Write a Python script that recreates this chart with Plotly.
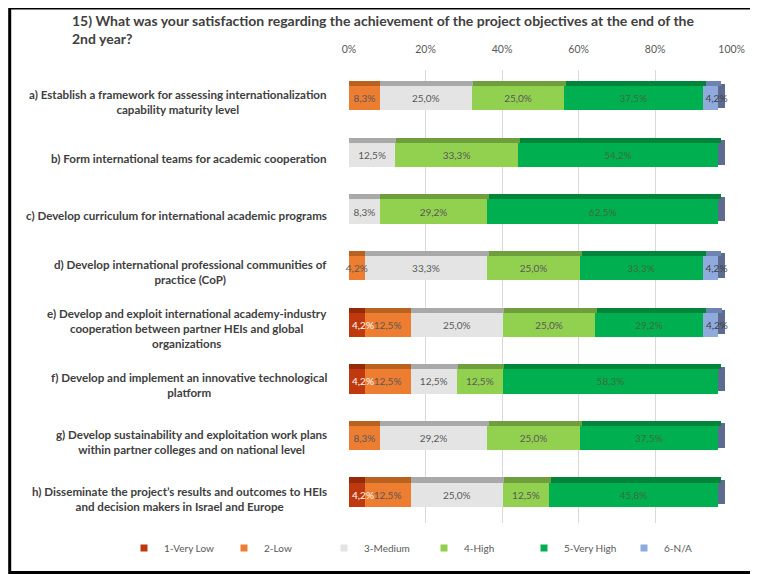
import plotly.graph_objects as go

categories = [
    "a) Establish a framework for assessing internationalization<br>capability maturity level",
    "b) Form international teams for academic cooperation",
    "c) Develop curriculum for international academic programs",
    "d) Develop international professional communities of<br>practice (CoP)",
    "e) Develop and exploit international academy-industry<br>cooperation between partner HEIs and global<br>organizations",
    "f) Develop and implement an innovative technological<br>platform",
    "g) Develop sustainability and exploitation work plans<br>within partner colleges and on national level",
    "h) Disseminate the project\u2019s results and outcomes to HEIs<br>and decision makers in Israel and Europe",
]
keys = ["a", "b", "c", "d", "e", "f", "g", "h"]

very_low = [0, 0, 0, 0, 4.2, 4.2, 0, 4.2]
low = [8.3, 0, 0, 4.2, 12.5, 12.5, 8.3, 12.5]
medium = [25.0, 12.5, 8.3, 33.3, 25.0, 12.5, 29.2, 25.0]
high = [25.0, 33.3, 29.2, 25.0, 25.0, 12.5, 25.0, 12.5]
very_high = [37.5, 54.2, 62.5, 33.3, 29.2, 58.3, 37.5, 45.8]
na = [4.2, 0, 0, 4.2, 4.2, 0, 0, 0]

series_names = ["1-Very Low", "2-Low", "3-Medium", "4-High", "5-Very High", "6-N/A"]
series_values = [very_low, low, medium, high, very_high, na]
colors = ["#C0390E", "#ED7D31", "#E4E4E4", "#92D050", "#00B050", "#8FAADC"]
top_colors = ["#962A08", "#B9611F", "#A9A9A9", "#6F9E3C", "#00853B", "#6D83B3"]
side_color = "#5D6B91"
text_colors = ["#FFFFFF", "#595959", "#595959", "#595959", "#3B6E3B", "#404040"]
text_anchors = ["start", "middle", "middle", "middle", "middle", "start"]

tick_vals = [0, 20, 40, 60, 80, 100]
tick_text = ["0%", "20%", "40%", "60%", "80%", "100%"]

FONT = "Lato"

# page has an 8px body margin: work in window pixels, convert to figure pixels
OFF = 8
W, H = 758 - OFF, 574 - OFF
L = 349 - OFF
R = W - (732 - OFF)
T = 70 - OFF
B = H - (523 - OFF)
pw, ph = W - L - R, H - T - B
FRONT_W = 369.0      # px for 0-100% on the front face
UNIT = FRONT_W / 100.0
BACK_SHIFT = 13.7    # px shift of back plane (grid/ticks)
TOP_SHIFT = 3.5      # px shift for top faces
SIDE_W = 7.0         # px depth of the bar end faces

def px_x(p):  # window px -> paper
    return (p - OFF - L) / pw

def px_y(p):
    return (H - B - (p - OFF)) / ph

BAR_W = 0.43
TOP_W = 0.09

totals = [sum(s[i] for s in series_values) for i in range(len(keys))]

fig = go.Figure()

# 3D-look end faces (drawn first, under the fronts)
fig.add_trace(go.Bar(
    y=keys, x=[SIDE_W / UNIT] * len(keys), base=totals, orientation="h",
    showlegend=False, marker=dict(color=side_color, line=dict(width=0)),
    width=BAR_W, offset=-(BAR_W / 2 + TOP_W / 2),
    hoverinfo="skip", xaxis="x", yaxis="y",
))

# front faces
for name, vals, col in zip(series_names, series_values, colors):
    fig.add_trace(go.Bar(
        y=keys, x=vals, name=name, orientation="h", showlegend=False,
        marker=dict(color=col, line=dict(width=0)), width=BAR_W,
        hoverinfo="skip", xaxis="x", yaxis="y",
    ))

# 3D-look top faces
for name, vals, col in zip(series_names, series_values, top_colors):
    fig.add_trace(go.Bar(
        y=keys, x=vals, orientation="h", showlegend=False,
        marker=dict(color=col, line=dict(width=0)),
        width=TOP_W, offset=-(BAR_W / 2 + TOP_W),
        hoverinfo="skip", xaxis="x3", yaxis="y2",
    ))

# data labels, on top of everything
for name, vals, tcol, anc in zip(series_names, series_values, text_colors, text_anchors):
    fig.add_trace(go.Bar(
        y=keys, x=vals, orientation="h", showlegend=False,
        marker=dict(color="rgba(0,0,0,0)", line=dict(width=0)), width=BAR_W,
        text=[("%.1f%%" % v).replace(".", ",") if v > 0 else "" for v in vals],
        textposition="inside", insidetextanchor=anc, textangle=0,
        constraintext="none", cliponaxis=False,
        textfont=dict(family=FONT, size=10, color=tcol),
        hoverinfo="skip", xaxis="x4", yaxis="y3",
    ))

# legend entries with small square swatches
for name, col in zip(series_names, colors):
    fig.add_trace(go.Scatter(
        x=[None], y=[None], mode="markers", name=name,
        marker=dict(symbol="square", size=7, color=col),
        hoverinfo="skip", xaxis="x", yaxis="y",
    ))

# carrier for the back-plane tick/grid axis
fig.add_trace(go.Scatter(
    x=tick_vals, y=[keys[0]] * len(tick_vals), mode="markers",
    marker=dict(opacity=0), showlegend=False, hoverinfo="skip",
    xaxis="x2", yaxis="y",
))

for k, lab in zip(keys, categories):
    fig.add_annotation(
        x=px_x(329), xref="paper", y=k, yref="y", yshift=-4,
        text=lab, showarrow=False, xanchor="right", align="center",
        font=dict(family=FONT, size=11.6, color="#404040", weight="bold"),
    )

fig.add_shape(type="rect", xref="paper", yref="paper",
              x0=px_x(9.7), x1=px_x(790), y0=px_y(572.5), y1=px_y(8),
              line=dict(color="black", width=3), fillcolor="rgba(0,0,0,0)",
              layer="above")

yrange = [len(keys) - 0.5, -0.5]
xrange_front = [0, pw / UNIT]

fig.update_layout(
    width=W, height=H,
    margin=dict(l=L, r=R, t=T, b=B, autoexpand=False),
    paper_bgcolor="white", plot_bgcolor="white",
    barmode="stack",
    title=dict(
        text="15) What was your satisfaction regarding the achievement of the project objectives at the end of the<br>2nd year?",
        x=(72 - OFF) / W, xanchor="left", xref="container",
        y=1 - 18 / H, yanchor="top", yref="container",
        font=dict(family=FONT, size=14, color="#404040", weight="bold"),
    ),
    xaxis=dict(
        domain=[0, 1], range=xrange_front, anchor="y",
        showgrid=False, zeroline=False, showline=False, showticklabels=False,
        fixedrange=True,
    ),
    xaxis2=dict(
        domain=[BACK_SHIFT / pw, 1], range=[0, (pw - BACK_SHIFT) / UNIT],
        overlaying="x", anchor="y", side="top",
        tickvals=tick_vals, ticktext=tick_text,
        showgrid=True, gridcolor="#D9D9D9", gridwidth=1, zeroline=False,
        showline=False, ticks="", ticklabelstandoff=14,
        tickfont=dict(family=FONT, size=10.5, color="#595959"),
        fixedrange=True,
    ),
    xaxis3=dict(
        domain=[TOP_SHIFT / pw, 1], range=[0, (pw - TOP_SHIFT) / UNIT],
        overlaying="x", anchor="y2", visible=False, fixedrange=True,
    ),
    xaxis4=dict(
        domain=[0, 1], range=xrange_front,
        overlaying="x", anchor="y3", visible=False, fixedrange=True,
    ),
    yaxis=dict(
        categoryorder="array", categoryarray=keys, range=yrange,
        showticklabels=False, showgrid=False, zeroline=False, showline=False,
        fixedrange=True,
    ),
    yaxis2=dict(
        categoryorder="array", categoryarray=keys, range=yrange,
        overlaying="y", visible=False, fixedrange=True,
    ),
    yaxis3=dict(
        categoryorder="array", categoryarray=keys, range=yrange,
        overlaying="y", visible=False, fixedrange=True,
    ),
    legend=dict(
        orientation="h", xref="paper", yref="paper",
        x=px_x(124), xanchor="left", y=px_y(548), yanchor="middle",
        font=dict(family=FONT, size=10, color="#595959"),
        traceorder="normal", entrywidth=55, entrywidthmode="pixels",
        itemwidth=30, bgcolor="rgba(0,0,0,0)",
    ),
    showlegend=True,
)

fig.write_html("out.html")
